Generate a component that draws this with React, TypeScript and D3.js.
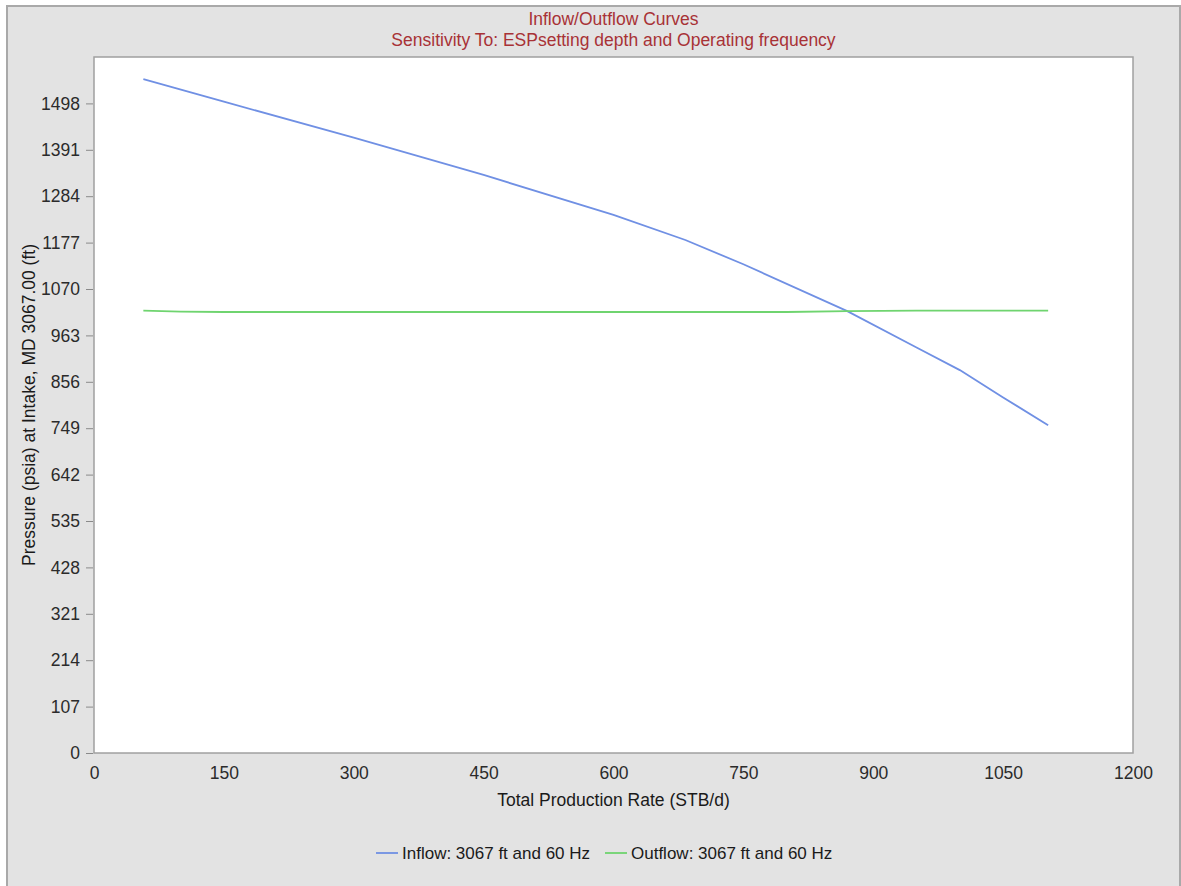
import { useRef, useEffect } from "react";
import * as d3 from "d3";

// values
const inflowRate = [57, 150, 300, 450, 600, 683, 750, 870, 950, 1000, 1050, 1102];
const inflowPressure = [1554, 1502, 1419, 1333, 1241, 1183, 1127, 1019, 935, 883, 820, 756];

const outflowRate = [57, 100, 150, 300, 450, 600, 750, 800, 870, 950, 1102];
const outflowPressure = [1020, 1018, 1017, 1017, 1017, 1017, 1017, 1017, 1019, 1020, 1020];

const xTicks = [0, 150, 300, 450, 600, 750, 900, 1050, 1200];
const yTicks = [0, 107, 214, 321, 428, 535, 642, 749, 856, 963, 1070, 1177, 1284, 1391, 1498];

const titleLines = [
  "Inflow/Outflow Curves",
  "Sensitivity To: ESPsetting depth and Operating frequency",
];
const seriesNames = ["Inflow: 3067 ft and 60 Hz", "Outflow: 3067 ft and 60 Hz"];

const W = 1181;
const H = 886;
const left = 94;
const right = 1133;
const top = 57;
const bottom = 753;
const font = "'Liberation Sans', Arial, sans-serif";
const fs = 17.5;

export default function App() {
  const svgRef = useRef(null);

  useEffect(() => {
    const svg = d3.select(svgRef.current);
    svg.selectAll("*").remove();

    const x = d3.scaleLinear().domain([0, 1200]).range([left, right]);
    const y = d3.scaleLinear().domain([0, 1605]).range([bottom, top]);

    // frame
    svg
      .append("rect")
      .attr("x", 7)
      .attr("y", 6)
      .attr("width", W - 8)
      .attr("height", H - 5)
      .attr("fill", "#e3e3e3")
      .attr("stroke", "#a9a9a9")
      .attr("stroke-width", 2);

    svg
      .append("rect")
      .attr("x", left)
      .attr("y", top)
      .attr("width", right - left)
      .attr("height", bottom - top)
      .attr("fill", "#ffffff")
      .attr("stroke", "#a0a0a0")
      .attr("stroke-width", 1.5);

    // titles
    svg
      .selectAll("text.title")
      .data(titleLines)
      .enter()
      .append("text")
      .attr("class", "title")
      .attr("x", (left + right) / 2)
      .attr("y", (d, i) => 25 + i * 21)
      .attr("text-anchor", "middle")
      .attr("font-family", font)
      .attr("font-size", fs)
      .attr("fill", "#a83236")
      .text((d) => d);

    // axes
    const yAxis = svg
      .append("g")
      .attr("transform", "translate(" + (left - 1) + ",0)")
      .call(
        d3
          .axisLeft(y)
          .tickValues(yTicks)
          .tickFormat(d3.format("d"))
          .tickSize(7)
          .tickPadding(6)
      );
    yAxis.select(".domain").remove();
    yAxis.selectAll("line").attr("stroke", "#8a8a8a");
    yAxis
      .selectAll("text")
      .attr("font-family", font)
      .attr("font-size", fs)
      .attr("fill", "#2b2b2b");

    const xAxis = svg
      .append("g")
      .attr("transform", "translate(0," + bottom + ")")
      .call(
        d3
          .axisBottom(x)
          .tickValues(xTicks)
          .tickFormat(d3.format("d"))
          .tickSize(0)
          .tickPadding(14)
      );
    xAxis.select(".domain").remove();
    xAxis
      .selectAll("text")
      .attr("font-family", font)
      .attr("font-size", fs)
      .attr("fill", "#2b2b2b");

    svg
      .append("text")
      .attr("x", (left + right) / 2)
      .attr("y", 806)
      .attr("text-anchor", "middle")
      .attr("font-family", font)
      .attr("font-size", fs)
      .attr("fill", "#1a1a1a")
      .text("Total Production Rate (STB/d)");

    svg
      .append("text")
      .attr("transform", "translate(35," + (top + bottom) / 2 + ") rotate(-90)")
      .attr("text-anchor", "middle")
      .attr("font-family", font)
      .attr("font-size", fs)
      .attr("fill", "#1a1a1a")
      .text("Pressure (psia) at Intake, MD 3067.00 (ft)");

    // lines
    const line = d3
      .line()
      .x((d) => x(d[0]))
      .y((d) => y(d[1]));

    const series = [
      { pts: d3.zip(inflowRate, inflowPressure), color: "#7090e4" },
      { pts: d3.zip(outflowRate, outflowPressure), color: "#6fd46f" },
    ];

    svg
      .selectAll("path.series")
      .data(series)
      .enter()
      .append("path")
      .attr("class", "series")
      .attr("d", (d) => line(d.pts))
      .attr("fill", "none")
      .attr("stroke", (d) => d.color)
      .attr("stroke-width", 1.8);

    // legend
    const legendX = [376, 605];
    const lg = svg
      .selectAll("g.legend")
      .data(series)
      .enter()
      .append("g")
      .attr("class", "legend")
      .attr("transform", (d, i) => "translate(" + legendX[i] + ",853)");
    lg.append("line")
      .attr("x1", 0)
      .attr("x2", 22)
      .attr("stroke", (d) => d.color)
      .attr("stroke-width", 1.8);
    lg.append("text")
      .attr("x", 26)
      .attr("y", 6)
      .attr("font-family", font)
      .attr("font-size", 17)
      .attr("fill", "#1a1a1a")
      .text((d, i) => seriesNames[i]);
  }, []);

  return (
    <svg
      ref={svgRef}
      width={W}
      height={H}
      style={{ position: "absolute", left: 0, top: 0, background: "#ffffff" }}
    />
  );
}
